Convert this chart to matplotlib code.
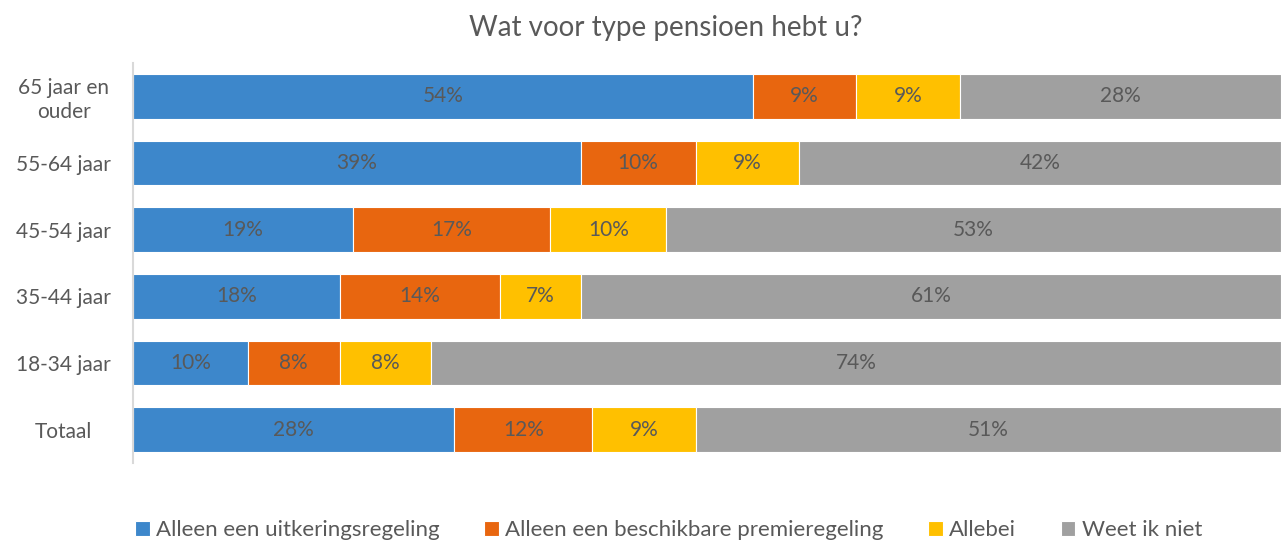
import matplotlib
matplotlib.use("Agg")
import matplotlib.pyplot as plt
import numpy as np

plt.rcParams['font.family'] = ['Lato', 'DejaVu Sans']

categories = ["65 jaar en\nouder", "55-64 jaar", "45-54 jaar", "35-44 jaar", "18-34 jaar", "Totaal"]
series_names = ["Alleen een uitkeringsregeling", "Alleen een beschikbare premieregeling", "Allebei", "Weet ik niet"]
uitkering = [54, 39, 19, 18, 10, 28]
premie = [9, 10, 17, 14, 8, 12]
allebei = [9, 9, 10, 7, 8, 9]
weet_niet = [28, 42, 53, 61, 74, 51]
colors = ["#3D87CB", "#E8660F", "#FFC000", "#A0A0A0"]
text_color = "#595959"

data = np.array([uitkering, premie, allebei, weet_niet], dtype=float)
totals = data.sum(axis=0)
shares = data / totals * 100

fig = plt.figure(figsize=(12.81, 5.43), dpi=100)
ax = fig.add_axes([133/1281, 1 - 463/543, 1 - 133/1281, 400/543])

y = np.arange(len(categories))
left = np.zeros(len(categories))
handles = []
for i, name in enumerate(series_names):
    bars = ax.barh(y, shares[i], left=left, height=0.67, color=colors[i],
                   edgecolor="white", linewidth=0.8, label=name)
    handles.append(bars)
    for j in range(len(categories)):
        ax.text(left[j] + shares[i][j] / 2, y[j], f"{int(data[i][j])}%",
                ha="center", va="center", fontsize=15, color=text_color)
    left += shares[i]

ax.set_xlim(0, 100)
ax.set_ylim(len(categories) - 0.5, -0.5)
ax.set_yticks(y)
ax.set_yticklabels(categories, fontsize=15, color=text_color, linespacing=1.25)
ax.tick_params(axis='y', length=0, pad=50)
ax.set_xticks([])
for s in ["top", "right", "bottom"]:
    ax.spines[s].set_visible(False)
ax.spines["left"].set_color("#D9D9D9")
ax.spines["left"].set_linewidth(1.5)
for lbl in ax.get_yticklabels():
    lbl.set_horizontalalignment("center")

fig.text(0.52, 1 - 28/543, "Wat voor type pensioen hebt u?", ha="center", va="center",
         fontsize=20, color=text_color)

leg = fig.legend(handles=handles, labels=series_names, loc="center",
                 bbox_to_anchor=(0.522, 1 - 530/543), ncol=4, frameon=False,
                 fontsize=16, handlelength=0.65, handleheight=0.65, handletextpad=0.3,
                 columnspacing=2.0, labelcolor=text_color)

fig.savefig("out.png", dpi=100)
